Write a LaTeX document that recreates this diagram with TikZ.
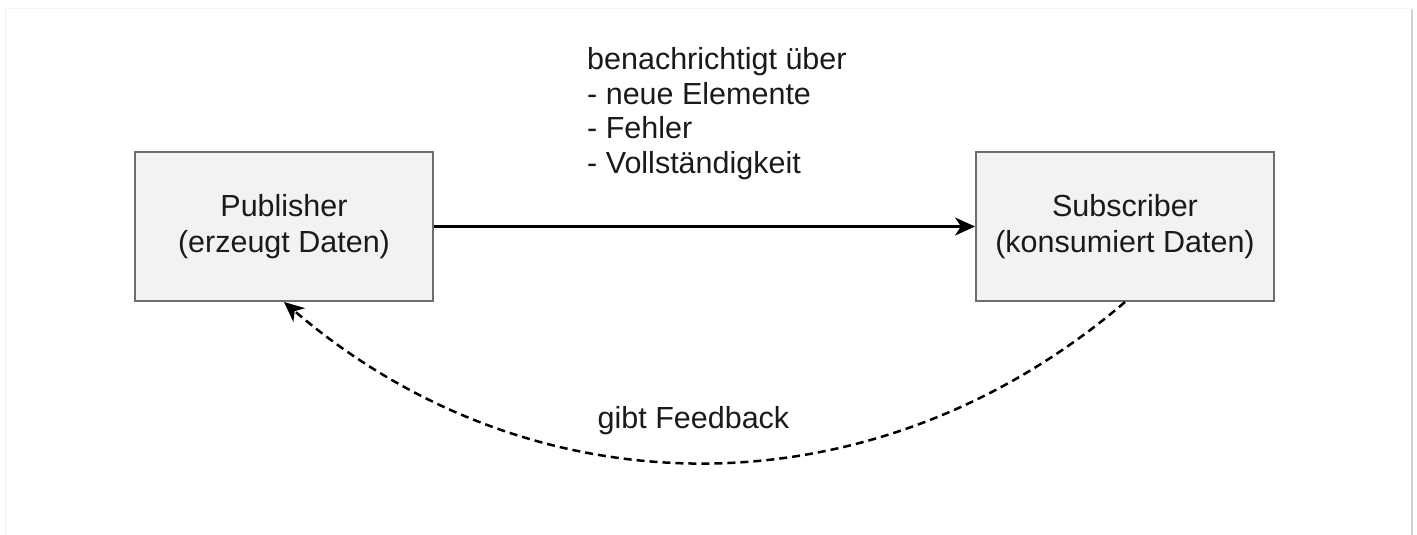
\documentclass[tikz,border=0pt]{standalone}
\usepackage{fontspec}
\setmainfont{Liberation Sans}
\usetikzlibrary{arrows.meta}
\definecolor{boxfill}{HTML}{F2F2F2}
\definecolor{boxline}{HTML}{6E6E6E}
\definecolor{txt}{HTML}{1A1A1A}
\begin{document}
\begin{tikzpicture}[x=1pt,y=-1pt,
  box/.style={draw=boxline,fill=boxfill,line width=2pt,minimum width=298pt,minimum height=149pt,inner sep=0pt,align=center,text=txt,font=\fontsize{30.5}{36}\selectfont},
  lbl/.style={font=\fontsize{30.5}{34.5}\selectfont,inner sep=0pt,text=txt},
  flow/.style={line width=2.5pt,-{Stealth[length=20pt,width=18pt,inset=6pt]}},
  fb/.style={flow,dash pattern=on 8pt off 5pt}]
\useasboundingbox (0,0) rectangle (1417,535);
% frame
\draw[line width=1pt,gray!12] (5,535) -- (5,9);
\draw[line width=1pt,gray!8] (5,9) -- (1412,9);
\draw[line width=1.5pt,gray!35] (1412,9) -- (1412,535);
% nodes
\node[box] (pub) at (284,226.5) {Publisher\\(erzeugt Daten)};
\node[box] (sub) at (1125,226.5) {Subscriber\\(konsumiert Daten)};
\node[lbl,anchor=base west,align=left] (note) at (587,173) {benachrichtigt über\\- neue Elemente\\- Fehler\\- Vollständigkeit};
\node[lbl,anchor=base] (fbl) at (693.5,428) {gibt Feedback};
% connectors
\draw[flow] (pub) -- (sub);
\draw[fb] (sub.south) .. controls (875,516) and (534,516) .. (pub.south);
\end{tikzpicture}
\end{document}
